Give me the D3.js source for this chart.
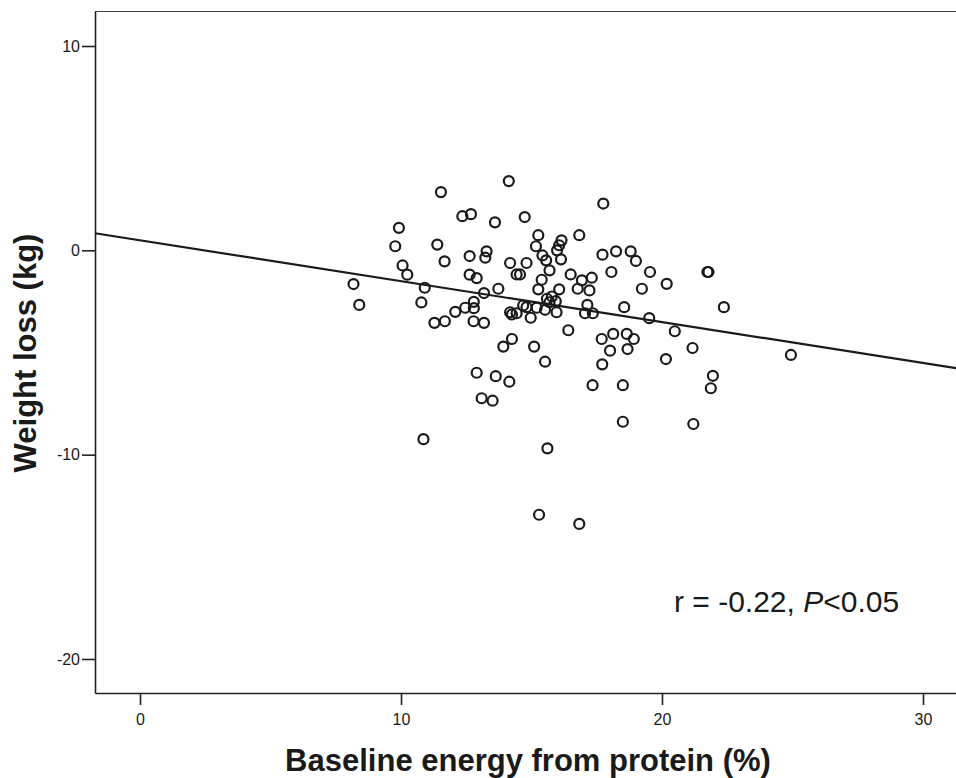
<!DOCTYPE html>
<html>
<head>
<meta charset="utf-8">
<script src="https://cdn.jsdelivr.net/npm/d3@7"></script>
<style>
  body { margin: 0; background: #fff; }
  text { font-family: "Liberation Sans", Arial, Helvetica, sans-serif; fill: #1a1a1a; }
  .axis path, .axis line { stroke: #222; stroke-width: 1.6; }
  .axis text { font-size: 16px; }
</style>
</head>
<body>
<div id="holder"></div>
<script>
// baseline energy from protein (%)
var protein = [
  8.18, 8.40, 9.78, 9.92, 10.06, 10.24, 10.78, 10.91, 10.86, 11.39,
  11.53, 11.67, 11.28, 11.68, 12.08, 12.46, 12.35, 12.68, 12.63, 12.63,
  12.90, 12.79, 12.79, 12.78, 13.18, 13.28, 13.23, 13.18, 13.60, 13.73,
  14.13, 14.18, 14.43, 14.56, 14.81, 14.74, 14.18, 14.25, 14.43, 14.68,
  14.81, 14.25, 13.92, 15.10, 15.52, 12.90, 13.63, 14.15, 13.09, 13.51,
  15.61, 15.29, 16.83, 15.26, 15.17, 16.15, 16.06, 15.98, 16.83, 15.42,
  15.56, 16.13, 15.69, 17.72, 18.24, 18.80, 19.00, 18.06, 19.54, 21.74,
  21.78, 20.18, 19.23, 16.50, 16.93, 17.31, 15.39, 16.77, 17.22, 15.26,
  16.06, 15.59, 15.78, 15.93, 15.69, 15.52, 15.96, 15.20, 14.97, 17.14,
  17.05, 17.35, 18.55, 19.51, 22.37, 16.41, 20.49, 18.13, 18.65, 17.69,
  18.92, 18.01, 18.68, 21.17, 20.15, 17.71, 24.94, 17.34, 18.50,
  21.95, 21.87, 18.50, 21.20, 17.75
];
// weight loss (kg)
var weightLoss = [
  -1.65, -2.67, 0.20, 1.10, -0.74, -1.19, -2.55, -1.83, -9.24, 0.28,
  2.85, -0.54, -3.55, -3.47, -3.01, -2.81, 1.67, 1.77, -0.28, -1.19,
  -1.36, -2.52, -2.83, -3.47, -3.55, -0.05, -0.36, -2.09, 1.37, -1.88,
  3.39, -0.62, -1.18, -1.18, -0.62, 1.63, -3.03, -3.14, -3.08, -2.70,
  -2.78, -4.34, -4.71, -4.71, -5.45, -5.99, -6.16, -6.43, -7.24, -7.36,
  -9.69, -12.94, -13.39, 0.74, 0.20, 0.49, 0.25, 0.00, 0.74, -0.25,
  -0.49, -0.44, -0.98, -0.21, -0.05, -0.05, -0.52, -1.06, -1.06, -1.06,
  -1.06, -1.64, -1.88, -1.18, -1.47, -1.34, -1.44, -1.88, -1.96, -1.91,
  -1.91, -2.37, -2.26, -2.49, -2.54, -2.91, -3.03, -2.81, -3.30, -2.67,
  -3.08, -3.08, -2.78, -3.32, -2.78, -3.91, -3.96, -4.09, -4.09, -4.34,
  -4.34, -4.91, -4.83, -4.78, -5.32, -5.58, -5.12, -6.60, -6.60,
  -6.14, -6.75, -8.39, -8.50, 2.29
];

var xTicks = [0, 10, 20, 30];
var yTicks = [10, 0, -10, -20];
var fitLine = { intercept: 0.49, slope: -0.2 };

var points = protein.map(function(p, i) {
  return { protein: p, loss: weightLoss[i] };
});

var margin = {top: 11, right: 0, bottom: 85, left: 95};
var fullWidth = 956;
var fullHeight = 778;
var width = fullWidth - margin.right - margin.left;
var height = fullHeight - margin.top - margin.bottom;

var svg = d3.select('#holder').append('svg')
  .attr('width', fullWidth)
  .attr('height', fullHeight)
  .append('g')
  .attr('transform', 'translate(' + margin.left + ',' + margin.top + ')');

var xScale = d3.scaleLinear()
  .domain([-1.724, 31.264])
  .range([0, width]);

var yScale = d3.scaleLinear()
  .domain([11.713, -21.664])
  .range([0, height]);

// top frame line, right side runs off the picture
svg.append('line')
  .attr('x1', 0).attr('x2', width + 10)
  .attr('y1', 0.5).attr('y2', 0.5)
  .attr('stroke', '#444')
  .attr('stroke-width', 1.2);

// plain hyphen for negatives, like the original
var plain = function(d) { return String(d); };

var xaxis = d3.axisBottom(xScale)
  .tickValues(xTicks)
  .tickFormat(plain)
  .tickSize(12)
  .tickPadding(9)
  .tickSizeOuter(0);
var yaxis = d3.axisLeft(yScale)
  .tickValues(yTicks)
  .tickFormat(plain)
  .tickSize(13)
  .tickPadding(2)
  .tickSizeOuter(0);

svg.append('g')
  .classed('x axis', true)
  .attr('transform', 'translate(0,' + height + ')')
  .call(xaxis);

svg.append('g')
  .classed('y axis', true)
  .call(yaxis);

// fit line
svg.append('line')
  .attr('x1', xScale(-1.724))
  .attr('y1', yScale(fitLine.intercept + fitLine.slope * -1.724))
  .attr('x2', xScale(31.264))
  .attr('y2', yScale(fitLine.intercept + fitLine.slope * 31.264))
  .attr('stroke', '#1a1a1a')
  .attr('stroke-width', 2.2);

svg.append('g')
  .selectAll('circle')
    .data(points)
  .enter().append('circle')
    .attr('cx', function(d) { return xScale(d.protein); })
    .attr('cy', function(d) { return yScale(d.loss); })
    .attr('r', 5)
    .attr('fill', 'none')
    .attr('stroke', '#1a1a1a')
    .attr('stroke-width', 2.2);

// annotation
var note = svg.append('text')
  .attr('x', 674 - margin.left)
  .attr('y', 612 - margin.top)
  .style('font-size', '30px');
note.append('tspan').text('r = -0.22, ');
note.append('tspan').style('font-style', 'italic').text('P');
note.append('tspan').text('<0.05');

// axis titles
d3.select('svg').append('text')
  .attr('x', 528)
  .attr('y', 771)
  .attr('text-anchor', 'middle')
  .style('font-size', '31px')
  .style('font-weight', 'bold')
  .text('Baseline energy from protein (%)');

d3.select('svg').append('text')
  .attr('transform', 'translate(36,353) rotate(-90)')
  .attr('text-anchor', 'middle')
  .style('font-size', '31px')
  .style('font-weight', 'bold')
  .text('Weight loss (kg)');
</script>
</body>
</html>
